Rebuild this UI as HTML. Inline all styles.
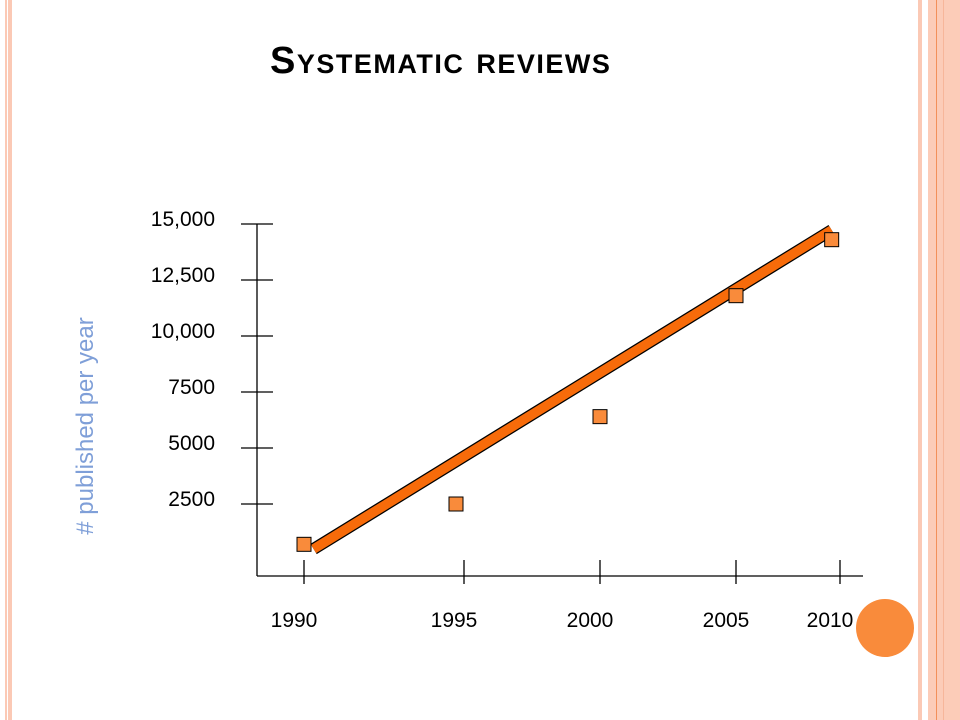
<!DOCTYPE html>
<html><head><meta charset="utf-8"><style>
body{margin:0;width:960px;height:720px;background:#fff;position:relative;overflow:hidden;font-family:"Liberation Sans",sans-serif}
.s{position:absolute;top:0;height:720px}
</style></head><body>
<div class="s" style="left:5px;width:2px;background:#fbc9b5"></div>
<div class="s" style="left:8px;width:4px;background:#fbc9b5"></div>
<div class="s" style="left:918px;width:4px;background:#fbc9b5"></div>
<div class="s" style="left:928px;width:32px;background:#fcccb8"></div>
<div class="s" style="left:936px;width:1px;background:#f3905a"></div>
<div class="s" style="left:943px;width:1px;background:#f7b69a"></div>
<div style="position:absolute;left:270px;top:40px;font-size:38px;font-weight:bold;font-variant:small-caps;letter-spacing:1.5px;color:#000;white-space:nowrap">Systematic reviews</div>
<svg width="960" height="720" style="position:absolute;left:0;top:0">
<g id="axes"></g><g id="marks"></g>
<circle cx="885" cy="628" r="29" fill="#f98b3b"/>
</svg>
<script>
const xTickLabels=["1990","1995","2000","2005","2010"];
const yTickValues=[2500,5000,7500,10000,12500,15000];
const yTickLabels=["2500","5000","7500","10,000","12,500","15,000"];
const pointYears=[1990,1994.75,2000,2005,2009.6];
const pointValues=[700,2500,6400,11800,14300];
const trendYears=[1990.3,2009.6];
const trendValues=[490,14730];
const NS="http://www.w3.org/2000/svg";
const knots=[[1990,304],[1995,464],[2000,600],[2005,736],[2010,840]];
function x(yr){for(let i=0;i<knots.length-1;i++){const a=knots[i],b=knots[i+1];if(yr<=b[0]||i==knots.length-2)return a[1]+(yr-a[0])*(b[1]-a[1])/(b[0]-a[0]);}}
function y(v){return 560-v*56/2500;}
const axes=document.getElementById('axes'),marks=document.getElementById('marks');
function mk(p,tag,at){const e=document.createElementNS(NS,tag);for(const k in at)e.setAttribute(k,at[k]);p.appendChild(e);return e;}
let e=mk(axes,'line',{x1:257,y1:224,x2:257,y2:576,stroke:'#000','stroke-width':1.3});


e=mk(axes,'line',{x1:257,y1:576,x2:863,y2:576,stroke:'#000','stroke-width':1.3});


yTickValues.forEach((v,i)=>{
 let t=mk(axes,'line',{x1:241,x2:273,y1:y(v),y2:y(v),stroke:'#000','stroke-width':1.3});
 
 
 let l=mk(axes,'text',{x:215,y:y(v)+2,'text-anchor':'end','font-size':21,'font-family':'Liberation Sans'});
 l.textContent=yTickLabels[i];
 
 
});
xTickLabels.forEach(s=>{
 const px=x(+s);
 let t=mk(axes,'line',{x1:px,x2:px,y1:560,y2:584,stroke:'#000','stroke-width':1.3});
 
 
 let l=mk(axes,'text',{x:px-10,y:627,'text-anchor':'middle','font-size':21,'font-family':'Liberation Sans'});
 l.textContent=s;
 
 
});
let yt=mk(axes,'text',{x:0,y:0,transform:'translate(93,426) rotate(-90)','text-anchor':'middle','font-size':24,fill:'#7f9fd8','font-family':'Liberation Sans'});
yt.textContent='# published per year';


const tx1=x(trendYears[0]),ty1=y(trendValues[0]),tx2=x(trendYears[1]),ty2=y(trendValues[1]);
let tb=mk(marks,'line',{x1:tx1,y1:ty1,x2:tx2,y2:ty2,stroke:'#000','stroke-width':12});


let tl=mk(marks,'line',{x1:tx1,y1:ty1,x2:tx2,y2:ty2,stroke:'#f76b0a','stroke-width':9.5});


pointYears.forEach((yr,i)=>{
 let r=mk(marks,'rect',{x:x(yr)-7,y:y(pointValues[i])-7,width:14,height:14,fill:'#f98b3b',stroke:'#000','stroke-width':1});
 
 
});
</script>
</body></html>
